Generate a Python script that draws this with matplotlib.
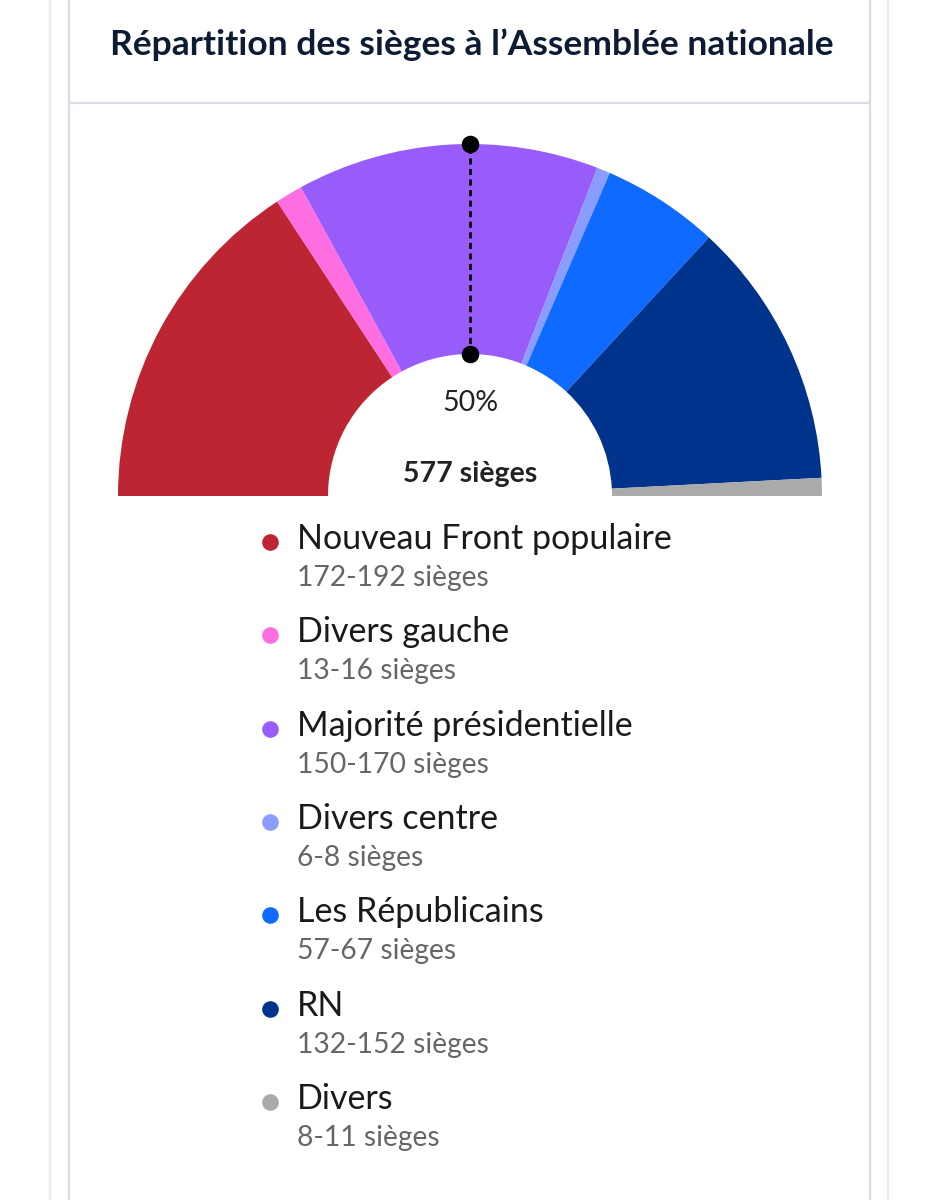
import matplotlib
matplotlib.use("Agg")
import matplotlib.pyplot as plt

# ---- data ----
parties = ["Nouveau Front populaire", "Divers gauche", "Majorité présidentielle",
           "Divers centre", "Les Républicains", "RN", "Divers"]
seat_ranges = ["172-192 sièges", "13-16 sièges", "150-170 sièges", "6-8 sièges",
               "57-67 sièges", "132-152 sièges", "8-11 sièges"]
seats = [182, 14.5, 160, 7, 62, 142, 9.5]
colors = ["#be2532", "#ff6ee0", "#985cfb", "#8a9dff", "#0f6bff", "#00338b", "#aaaaaa"]
total_seats = 577
title = "Répartition des sièges à l’Assemblée nationale"

plt.rcParams['font.family'] = ['Lato', 'DejaVu Sans']

W, H = 938, 1200
fig = plt.figure(figsize=(W / 100, H / 100), dpi=100)
ax = fig.add_axes([0, 0, 1, 1])

def Y(py):
    return H - py

cx, cy = 470, Y(496)
r_out, r_in = 352, 142

vals = seats + [sum(seats)]
cols = colors + ["none"]
ax.pie(vals, colors=cols, startangle=180, counterclock=False,
       center=(cx, cy), radius=r_out,
       wedgeprops=dict(width=r_out - r_in, linewidth=0))

ax.set_xlim(0, W)
ax.set_ylim(0, H)
ax.set_aspect('equal')
ax.axis('off')

# card borders
for x, c in [(50, "#ececf2"), (69, "#dcdce6"), (870, "#dcdce6"), (888, "#ececf2")]:
    ax.plot([x, x], [0, H], color=c, lw=1.6, zorder=1)
ax.plot([69, 870], [Y(103), Y(103)], color="#dcdce6", lw=1.6, zorder=1)

# title
ax.text(472, Y(45), title, ha='center', va='center', fontsize=25.5,
        fontweight='bold', color="#0e1c33")

# majority line
ax.plot([cx, cx], [cy + r_in, cy + r_out], color='black', lw=2,
        linestyle=(0, (2.2, 1.6)), zorder=5)
ax.scatter([cx, cx], [cy + r_in, cy + r_out], s=135, color='black', zorder=6)

ax.text(cx, Y(403), "50%", ha='center', va='center', fontsize=20.5, color="#222222")
ax.text(cx, Y(474), f"{total_seats} sièges", ha='center', va='center',
        fontsize=20.5, fontweight='bold', color="#222222")

# legend
y0, dy = 539, 93.3
for i, (p, s, c) in enumerate(zip(parties, seat_ranges, colors)):
    yy = y0 + i * dy
    ax.scatter([270], [Y(yy + 3)], s=120, color=c, zorder=5)
    ax.text(297, Y(yy), p, ha='left', va='center', fontsize=24.5, color="#1a1a1a")
    ax.text(297, Y(yy + 39), s, ha='left', va='center', fontsize=20.3, color="#666666")

fig.savefig("out.png", dpi=100)
